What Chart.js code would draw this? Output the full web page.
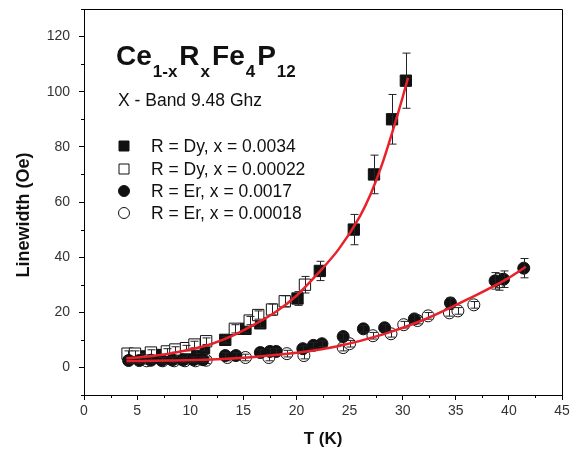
<!DOCTYPE html>
<html>
<head>
<meta charset="utf-8">
<script src="https://cdn.jsdelivr.net/npm/chart.js@4/dist/chart.umd.min.js"></script>
<style>
  body { margin: 0; background: #fff; }
  #wrap { width: 571px; height: 454px; }
</style>
</head>
<body>
<div id="wrap"><canvas id="c"></canvas></div>
<script>
// R = Dy, x = 0.0034 (filled squares)
var dyA_T   = [4.5, 5.5, 6.5, 7.5, 8.5, 9.5, 10.5, 11.3, 13.3, 15.2, 16.6, 20.1, 22.2, 25.4, 27.3, 29.0, 30.3];
var dyA_L   = [4, 4, 4.5, 4.5, 5, 5, 6, 7, 10, 14, 16, 25, 35, 50, 70, 90, 104];
var dyA_err = [1, 1, 1, 1, 1, 1, 1, 1, 1.2, 1.5, 1.5, 2.5, 3.5, 5.5, 7, 9, 10];

// R = Dy, x = 0.00022 (open squares)
var dyB_T   = [4.1, 4.8, 6.3, 7.8, 8.6, 9.6, 10.4, 11.5, 14.2, 15.6, 16.4, 17.7, 18.9, 20.8];
var dyB_L   = [5, 5, 5.4, 5.8, 6.5, 7, 8.3, 9.5, 14, 17, 19, 21, 24, 30];
var dyB_err = [1, 1, 1, 1, 1, 1, 1.2, 1.2, 1.5, 1.5, 1.5, 2, 2, 3];

// R = Er, x = 0.0017 (filled circles)
var erA_T   = [4.2, 5.2, 6.3, 7.3, 8.3, 9.3, 10.3, 11.2, 13.3, 14.3, 16.6, 17.5, 18.1, 20.6, 21.6, 22.4, 24.4, 26.3, 28.3, 31.1, 34.5, 38.7, 39.5, 41.4];
var erA_L   = [2.5, 2.5, 2.6, 2.6, 2.7, 2.7, 2.8, 2.8, 4.3, 4.3, 5.4, 5.8, 5.8, 6.8, 8, 8.6, 11.2, 14, 14.4, 17.6, 23.4, 31.4, 32, 36];
var erA_err = [1, 1, 1, 1, 1, 1, 1, 1, 1, 1, 1, 1, 1, 1, 1, 1, 1.2, 1.2, 1.2, 1.5, 1.8, 3, 3, 3.5];

// R = Er, x = 0.00018 (open circles)
var erB_T   = [5.9, 7.4, 8.5, 9.5, 10.5, 11.5, 13.5, 15.2, 17.4, 19.1, 20.7, 24.4, 25.0, 27.2, 28.9, 30.1, 31.4, 32.4, 34.4, 35.2, 36.7, 39.1];
var erB_L   = [2.4, 2.4, 2.4, 2.4, 2.4, 2.6, 3.6, 3.6, 3.6, 5, 4.3, 7.2, 8.6, 11.5, 12.2, 15.5, 17, 18.7, 19.8, 20.5, 22.7, 31];
var erB_err = [1.2, 1.2, 1.2, 1.2, 1.2, 1.2, 1.2, 1.2, 1.2, 1.2, 1.2, 1.2, 1.2, 1.2, 1.2, 1.2, 1.2, 1.2, 1.2, 1.2, 1.2, 3];

// red fit curves
var fitDy_T = [4, 6, 8, 10, 12, 14, 16, 18, 20, 22, 24, 26, 27, 28, 29, 30, 30.5];
var fitDy_L = [3.3, 4, 5, 6.5, 8.5, 11.5, 15.5, 20, 26, 34, 43, 55, 63, 73, 85, 98, 105];
var fitEr_T = [4, 8, 12, 16, 20, 24, 28, 32, 36, 40, 41.6];
var fitEr_L = [2.3, 2.5, 2.9, 3.8, 5.3, 7.8, 11.8, 17.3, 24.5, 32.5, 36.5];

var xTicks = [0, 5, 10, 15, 20, 25, 30, 35, 40, 45];
var yTicks = [0, 20, 40, 60, 80, 100, 120];

var legendLabels = ['R = Dy, x = 0.0034', 'R = Dy, x = 0.00022', 'R = Er, x = 0.0017', 'R = Er, x = 0.00018'];

function pts(xs, ys) {
  return xs.map(function(x, i) { return {x: x, y: ys[i]}; });
}

var FONT = "'Liberation Sans', Arial, sans-serif";

var extras = {
  id: 'extras',
  afterDatasetDraw: function(chart, args) {
    var ds = chart.data.datasets[args.index];
    if (!ds.errs) return;
    var ctx = chart.ctx, xs = chart.scales.x, ys = chart.scales.y;
    ctx.save();
    ctx.strokeStyle = '#222';
    ctx.lineWidth = 1;
    ds.data.forEach(function(p, i) {
      var e = ds.errs[i];
      var px = Math.round(xs.getPixelForValue(p.x)) + 0.5;
      var y1 = ys.getPixelForValue(p.y + e), y2 = ys.getPixelForValue(p.y - e);
      ctx.beginPath();
      ctx.moveTo(px, y1); ctx.lineTo(px, y2);
      ctx.moveTo(px - 4, y1); ctx.lineTo(px + 4, y1);
      ctx.moveTo(px - 4, y2); ctx.lineTo(px + 4, y2);
      ctx.stroke();
    });
    ctx.restore();
  },
  afterDraw: function(chart) {
    var ctx = chart.ctx, a = chart.chartArea, xs = chart.scales.x, ys = chart.scales.y;
    ctx.save();
    // frame top / right
    ctx.strokeStyle = '#000';
    ctx.lineWidth = 1;
    ctx.beginPath();
    ctx.moveTo(a.left, a.top + 0.5); ctx.lineTo(a.right + 0.5, a.top + 0.5);
    ctx.lineTo(a.right + 0.5, a.bottom);
    ctx.stroke();
    // minor ticks
    ctx.beginPath();
    for (var t = 2.5; t < 45; t += 5) {
      var px = Math.round(xs.getPixelForValue(t)) + 0.5;
      ctx.moveTo(px, a.bottom); ctx.lineTo(px, a.bottom + 3);
    }
    for (var v = -10; v <= 130; v += 20) {
      var py = Math.round(ys.getPixelForValue(v)) + 0.5;
      ctx.moveTo(a.left - 3, py); ctx.lineTo(a.left, py);
    }
    ctx.stroke();

    // y axis title
    ctx.fillStyle = '#111';
    ctx.save();
    ctx.translate(24, 215);
    ctx.rotate(-Math.PI / 2);
    ctx.font = 'bold 18px ' + FONT;
    ctx.textAlign = 'center';
    ctx.textBaseline = 'middle';
    ctx.fillText('Linewidth (Oe)', 0, 0);
    ctx.restore();

    // title with subscripts
    ctx.textBaseline = 'alphabetic';
    ctx.textAlign = 'left';
    var parts = [['Ce', 0], ['1-x', 1], ['R', 0], ['x', 1], ['Fe', 0], ['4', 1], ['P', 0], ['12', 1]];
    var x = 116;
    parts.forEach(function(p) {
      if (p[1]) {
        ctx.font = 'bold 17px ' + FONT;
        ctx.fillText(p[0], x + 1, 77);
        x += ctx.measureText(p[0]).width + 3;
      } else {
        ctx.font = 'bold 28px ' + FONT;
        ctx.fillText(p[0], x, 65);
        x += ctx.measureText(p[0]).width;
      }
    });
    ctx.font = '17.5px ' + FONT;
    ctx.fillText('X - Band 9.48 Ghz', 118, 106);

    // legend
    var rows = [152, 175, 197, 219];
    ctx.font = '17.5px ' + FONT;
    legendLabels.forEach(function(lbl, i) {
      var cy = rows[i] - 6, cx = 124;
      ctx.fillStyle = '#111';
      ctx.fillText(lbl, 151, rows[i]);
      ctx.lineWidth = 1;
      ctx.strokeStyle = '#111';
      ctx.beginPath();
      if (i < 2) ctx.rect(cx - 5, cy - 5, 10, 10);
      else ctx.arc(cx, cy, 5.5, 0, Math.PI * 2);
      ctx.fillStyle = (i % 2 === 0) ? '#111' : '#fff';
      ctx.fill();
      ctx.stroke();
    });
    ctx.restore();
  }
};

function scatterSet(label, xs, ys, errs, style, filled, order) {
  return {
    type: 'scatter',
    label: label,
    data: pts(xs, ys),
    errs: errs,
    pointStyle: style,
    pointRadius: style === 'rect' ? 8 : 6,
    pointBackgroundColor: filled ? '#111' : '#fff',
    pointBorderColor: '#111',
    pointBorderWidth: 1,
    order: order
  };
}

new Chart(document.getElementById('c'), {
  type: 'scatter',
  data: {
    datasets: [
      scatterSet(legendLabels[0], dyA_T, dyA_L, dyA_err, 'rect', true, 5),
      scatterSet(legendLabels[1], dyB_T, dyB_L, dyB_err, 'rect', false, 4),
      scatterSet(legendLabels[3], erB_T, erB_L, erB_err, 'circle', false, 3),
      scatterSet(legendLabels[2], erA_T, erA_L, erA_err, 'circle', true, 2),
      {type: 'line', data: pts(fitDy_T, fitDy_L), borderColor: '#e8212b', borderWidth: 2.5,
       pointRadius: 0, cubicInterpolationMode: 'monotone', order: 1},
      {type: 'line', data: pts(fitEr_T, fitEr_L), borderColor: '#e8212b', borderWidth: 2.5,
       pointRadius: 0, cubicInterpolationMode: 'monotone', order: 0}
    ]
  },
  options: {
    responsive: true,
    maintainAspectRatio: false,
    animation: false,
    layout: { padding: { top: 5, right: 2, left: 0, bottom: 0 } },
    plugins: { legend: { display: false }, tooltip: { enabled: false } },
    scales: {
      x: {
        type: 'linear', min: 0, max: 45,
        afterBuildTicks: function(s) { s.ticks = xTicks.map(function(v) { return {value: v}; }); },
        afterFit: function(s) { s.height = 59; s.paddingLeft = 0; s.paddingRight = 0; },
        grid: { drawOnChartArea: false, drawTicks: true, tickLength: 5, color: '#000' },
        border: { display: true, color: '#000' },
        ticks: { color: '#333', font: { family: FONT, size: 14 }, padding: 3, maxRotation: 0 },
        title: { display: true, text: 'T (K)', color: '#111', font: { family: FONT, size: 17, weight: 'bold' }, padding: { top: 7 } }
      },
      y: {
        type: 'linear', min: -10, max: 130,
        afterBuildTicks: function(s) { s.ticks = yTicks.map(function(v) { return {value: v}; }); },
        afterFit: function(s) { s.width = 84; s.paddingTop = 0; s.paddingBottom = 0; },
        grid: { drawOnChartArea: false, drawTicks: true, tickLength: 5, color: '#000' },
        border: { display: true, color: '#000' },
        ticks: { color: '#333', font: { family: FONT, size: 14 }, padding: 9 }
      }
    }
  },
  plugins: [extras]
});
</script>
</body>
</html>
